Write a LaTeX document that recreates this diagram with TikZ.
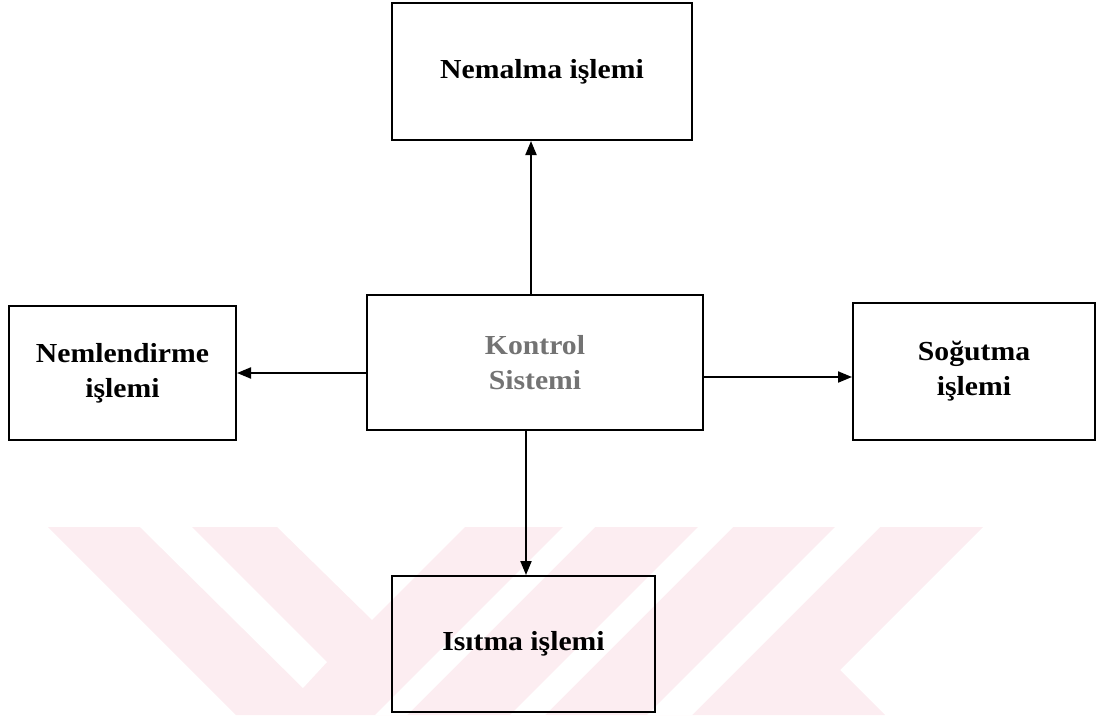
\documentclass[tikz,border=0pt]{standalone}
\usepackage{fontspec}
\setmainfont{Liberation Serif}[FakeStretch=1.08]
\usetikzlibrary{arrows.meta}
\definecolor{wm}{RGB}{252,237,241}
\begin{document}
\begin{tikzpicture}[x=1pt,y=-1pt,
  box/.style={draw=black,line width=2pt,inner sep=0pt,align=center,
    font=\fontsize{27.5}{35}\selectfont\bfseries},
  arr/.style={line width=2pt,-{Triangle[length=14pt,width=11pt]}},
  wmark/.style={fill=wm},
  wgap/.style={fill=white}]
\useasboundingbox (0,0) rectangle (1097,715);
% watermark
\path[wmark] (48,527) -- (277,527) -- (372,620) -- (465,527) -- (983,527) -- (840,670) -- (885,715) -- (236,715) -- cycle;
\path[wgap] (140,527) -- (192,527) -- (327,662) -- (303,688) -- cycle;
\path[wgap] (563,527) -- (595,527) -- (407,715) -- (375,715) -- cycle;
\path[wgap] (698,527) -- (733,527) -- (545,715) -- (510,715) -- cycle;
\path[wgap] (835,527) -- (880,527) -- (692,715) -- (647,715) -- cycle;
% boxes
\node[box,minimum width=300pt,minimum height=137pt] (nemalma) at (542,71.5) {Nemalma işlemi};
\node[box,minimum width=336pt,minimum height=135pt,text=black!55] (kontrol) at (535,362.5) {Kontrol\\Sistemi};
\node[box,minimum width=227pt,minimum height=134pt] (nem) at (122.5,373) {Nemlendirme\\işlemi};
\node[box,minimum width=242pt,minimum height=137pt] (sog) at (974,371.5) {Soğutma\\işlemi};
\node[box,minimum width=263pt,minimum height=136pt] (isi) at (523.5,644) {Isıtma işlemi};
% connectors
\draw[arr] ([xshift=-4pt]kontrol.north) -- ([xshift=-4pt]kontrol.north |- nemalma.south);
\draw[arr] ([yshift=-10.5pt]kontrol.west) -- ([yshift=-10.5pt]kontrol.west -| nem.east);
\draw[arr] ([yshift=-14.5pt]kontrol.east) -- ([yshift=-14.5pt]kontrol.east -| sog.west);
\draw[arr] ([xshift=-9pt]kontrol.south) -- ([xshift=-9pt]kontrol.south |- isi.north);
\end{tikzpicture}
\end{document}
